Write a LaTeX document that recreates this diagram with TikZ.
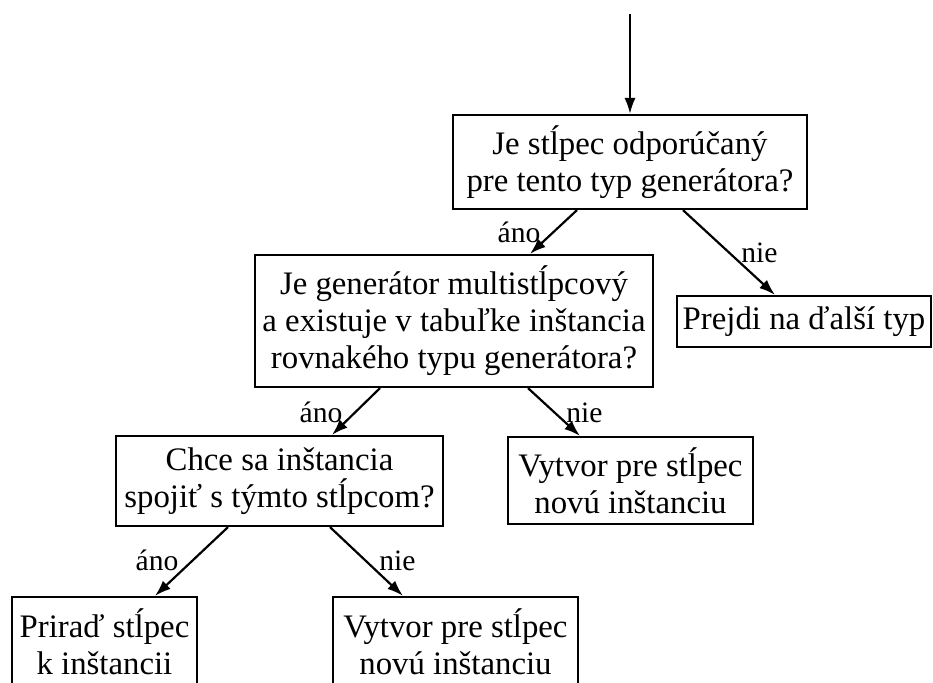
\documentclass[tikz,border=0pt]{standalone}
\usepackage{fontspec}
\setmainfont{Liberation Serif}
\usetikzlibrary{arrows.meta,calc}

\begin{document}
\begin{tikzpicture}[x=0.5pt,y=-0.5pt,
  box/.style={draw,line width=1.1pt,inner sep=0pt,align=center,
    font=\fontsize{16.4}{18.5}\selectfont},
  lbl/.style={anchor=base,inner sep=0pt,font=\fontsize{14.8}{16}\selectfont},
  arr/.style={line width=1.1pt,-{Latex[length=8pt,width=5.6pt]}}]
\useasboundingbox (0,0) rectangle (933,682);

% decision and action boxes
\node[box,minimum width=177pt,minimum height=47pt] (q1) at (630,162)
  {Je stĺpec odporúčaný\\pre tento typ generátora?};
\node[box,minimum width=127pt,minimum height=25.5pt] (next) at (804,321.5)
  {Prejdi na ďalší typ};
\node[box,minimum width=199pt,minimum height=66pt] (q2) at (454,321)
  {Je generátor multistĺpcový\\a existuje v tabuľke inštancia\\rovnakého typu generátora?};
\node[box,minimum width=163.5pt,minimum height=45pt] (q3) at (279.5,481)
  {Chce sa inštancia\\spojiť s týmto stĺpcom?};
\node[box,minimum width=122.5pt,minimum height=43.5pt] (new1) at (630.5,480.5)
  {Vytvor pre stĺpec\\novú inštanciu};
\node[box,minimum width=92.5pt,minimum height=45pt] (assign) at (104.5,642)
  {Priraď stĺpec\\k inštancii};
\node[box,minimum width=122.5pt,minimum height=45pt] (new2) at (455.5,642)
  {Vytvor pre stĺpec\\novú inštanciu};

% incoming flow
\coordinate (start) at (630,14);
\draw[arr] (start) -- (q1.north);

% branches
\draw[arr] ($(q1.south)+(-53,0)$) -- ($(q2.north)+(76,0)$);
\draw[arr] ($(q1.south)+(53,0)$) -- ($(next.north)+(-29,0)$);
\draw[arr] ($(q2.south)+(-74,0)$) -- ($(q3.north)+(52.5,0)$);
\draw[arr] ($(q2.south)+(74,0)$) -- ($(new1.north)+(-50.5,0)$);
\draw[arr] ($(q3.south)+(-51.5,0)$) -- ($(assign.north)+(50.5,0)$);
\draw[arr] ($(q3.south)+(50.5,0)$) -- ($(new2.north)+(-52.5,0)$);

% branch labels
\node[lbl] (y1) at (519,242) {áno};
\node[lbl] (n1) at (759.5,262) {nie};
\node[lbl] (y2) at (321,422) {áno};
\node[lbl] (n2) at (584.5,422) {nie};
\node[lbl] (y3) at (157,570) {áno};
\node[lbl] (n3) at (397.5,570) {nie};
\end{tikzpicture}
\end{document}
